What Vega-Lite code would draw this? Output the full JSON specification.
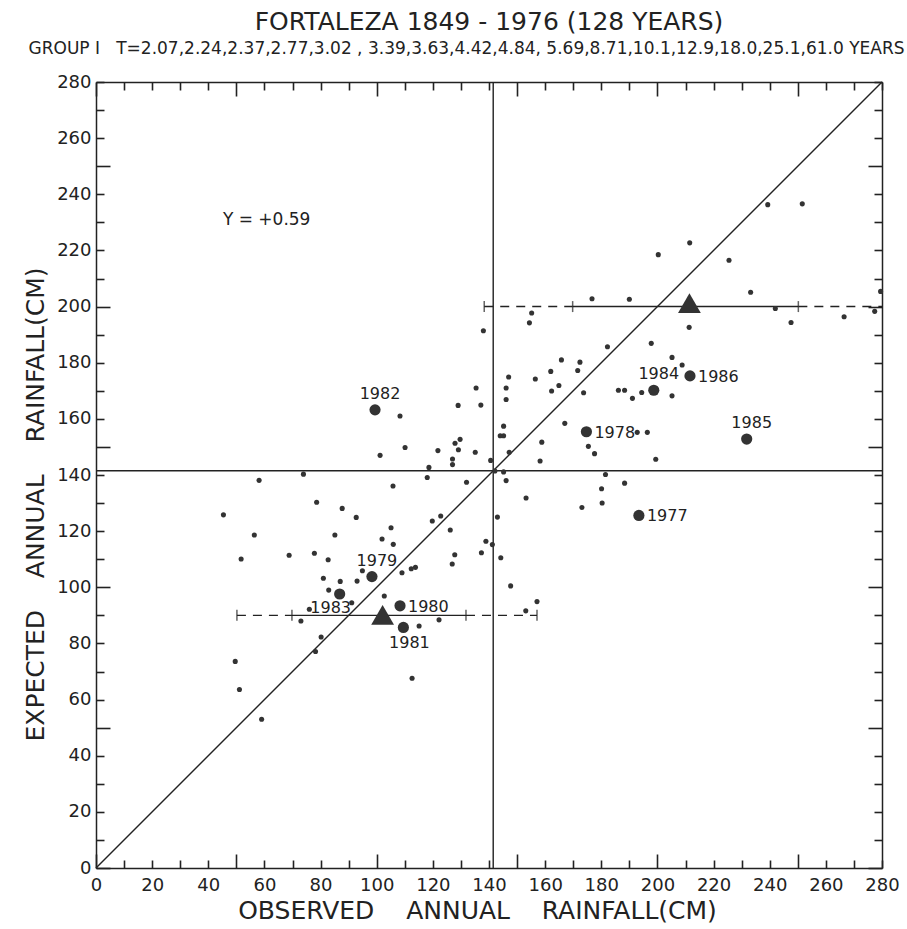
{
  "$schema": "https://vega.github.io/schema/vega-lite/v6.json",
  "width": 786,
  "height": 786,
  "autosize": {"type": "none"},
  "padding": {"left": 96, "top": 82, "right": 25, "bottom": 61},
  "background": "white",
  "config": {
    "view": {"stroke": null},
    "font": "DejaVu Sans",
    "axis": {
      "grid": false,
      "domainColor": "#222",
      "domainWidth": 1.5,
      "tickColor": "#222",
      "tickWidth": 1.6,
      "labelColor": "#222",
      "labelFont": "DejaVu Sans",
      "labelFontSize": 18,
      "labelFlush": false,
      "labelOverlap": false,
      "labelBound": false,
      "titleFont": "DejaVu Sans",
      "titleFontWeight": "normal",
      "titleColor": "#222"
    }
  },
  "title": {
    "text": "FORTALEZA 1849 - 1976 (128 YEARS)",
    "font": "DejaVu Sans",
    "fontSize": 25,
    "fontWeight": "normal",
    "color": "#222",
    "anchor": "middle",
    "offset": 4
  },
  "datasets": {
    "pts": [
      {"obs":110.1,"exp":149.8},{"obs":101.2,"exp":147.0},{"obs":73.9,"exp":140.3},{"obs":58.1,"exp":138.1},
      {"obs":118.6,"exp":142.7},{"obs":118.0,"exp":139.1},{"obs":105.8,"exp":136.1},{"obs":78.6,"exp":130.3},
      {"obs":87.7,"exp":128.1},{"obs":45.4,"exp":125.8},{"obs":92.7,"exp":124.9},{"obs":56.4,"exp":118.6},
      {"obs":85.1,"exp":118.6},{"obs":105.1,"exp":121.2},{"obs":101.9,"exp":117.2},{"obs":105.9,"exp":115.3},
      {"obs":51.7,"exp":110.1},{"obs":68.8,"exp":111.4},{"obs":77.8,"exp":112.1},{"obs":82.7,"exp":109.8},
      {"obs":94.9,"exp":105.9},{"obs":109.0,"exp":105.2},{"obs":112.3,"exp":106.6},{"obs":113.8,"exp":107.1},
      {"obs":81.0,"exp":103.2},{"obs":87.0,"exp":102.1},{"obs":93.0,"exp":102.2},{"obs":82.9,"exp":99.0},
      {"obs":91.1,"exp":94.5},{"obs":102.7,"exp":96.9},{"obs":76.0,"exp":92.2},{"obs":73.0,"exp":88.0},
      {"obs":115.1,"exp":86.2},{"obs":80.2,"exp":82.3},{"obs":78.2,"exp":77.1},{"obs":49.6,"exp":73.6},
      {"obs":112.6,"exp":67.6},{"obs":51.1,"exp":63.6},{"obs":59.0,"exp":53.0},{"obs":127.9,"exp":151.3},
      {"obs":129.7,"exp":152.7},{"obs":121.8,"exp":148.7},{"obs":127.0,"exp":145.7},{"obs":127.0,"exp":143.7},
      {"obs":129.1,"exp":149.0},{"obs":135.1,"exp":148.1},{"obs":140.6,"exp":145.2},{"obs":147.2,"exp":148.1},
      {"obs":158.8,"exp":151.7},{"obs":158.2,"exp":145.0},{"obs":132.0,"exp":137.4},{"obs":145.2,"exp":141.1},
      {"obs":146.1,"exp":138.0},{"obs":153.2,"exp":131.8},{"obs":173.1,"exp":128.4},{"obs":119.8,"exp":123.6},
      {"obs":122.8,"exp":125.4},{"obs":126.2,"exp":120.4},{"obs":143.0,"exp":125.0},{"obs":138.9,"exp":116.4},
      {"obs":141.2,"exp":115.2},{"obs":137.3,"exp":112.3},{"obs":127.8,"exp":111.6},{"obs":126.9,"exp":108.3},
      {"obs":144.2,"exp":110.5},{"obs":147.7,"exp":100.5},{"obs":157.1,"exp":94.9},{"obs":153.1,"exp":91.6},
      {"obs":122.2,"exp":88.4},{"obs":176.7,"exp":202.8},{"obs":155.2,"exp":197.7},{"obs":154.4,"exp":194.2},
      {"obs":138.0,"exp":191.4},{"obs":165.8,"exp":181.0},{"obs":172.4,"exp":180.2},{"obs":171.6,"exp":177.2},
      {"obs":162.0,"exp":176.9},{"obs":147.0,"exp":174.9},{"obs":156.5,"exp":174.2},{"obs":146.1,"exp":171.0},
      {"obs":164.9,"exp":171.9},{"obs":162.3,"exp":169.9},{"obs":135.4,"exp":171.0},{"obs":173.7,"exp":169.3},
      {"obs":146.1,"exp":166.9},{"obs":129.0,"exp":164.8},{"obs":137.1,"exp":164.9},{"obs":167.0,"exp":158.4},
      {"obs":145.2,"exp":157.4},{"obs":144.0,"exp":154.0},{"obs":145.2,"exp":154.0},{"obs":175.4,"exp":150.2},
      {"obs":177.6,"exp":147.6},{"obs":108.3,"exp":161.0},{"obs":190.0,"exp":202.6},{"obs":182.2,"exp":185.7},
      {"obs":186.1,"exp":170.2},{"obs":188.3,"exp":170.2},{"obs":191.1,"exp":167.3},{"obs":194.4,"exp":169.4},
      {"obs":205.2,"exp":168.2},{"obs":192.8,"exp":155.2},{"obs":196.4,"exp":155.2},{"obs":199.4,"exp":145.6},
      {"obs":181.5,"exp":140.2},{"obs":188.3,"exp":137.1},{"obs":180.1,"exp":135.1},{"obs":180.3,"exp":130.0},
      {"obs":239.3,"exp":236.3},{"obs":251.6,"exp":236.6},{"obs":211.5,"exp":222.7},{"obs":200.3,"exp":218.5},
      {"obs":225.5,"exp":216.5},{"obs":233.2,"exp":205.1},{"obs":279.5,"exp":205.4},{"obs":242.0,"exp":199.3},
      {"obs":266.5,"exp":196.4},{"obs":277.4,"exp":198.3},{"obs":247.6,"exp":194.3},{"obs":211.3,"exp":192.6},
      {"obs":197.8,"exp":186.9},{"obs":205.2,"exp":181.9},{"obs":208.8,"exp":179.2},{"obs":142.1,"exp":141.4}
    ],
    "yrs": [
      {"year":"1977","obs":193.4,"exp":125.6,"pos":"right"},
      {"year":"1978","obs":174.7,"exp":155.4,"pos":"right"},
      {"year":"1979","obs":98.3,"exp":103.8,"pos":"above"},
      {"year":"1980","obs":108.3,"exp":93.4,"pos":"right"},
      {"year":"1981","obs":109.5,"exp":85.7,"pos":"below"},
      {"year":"1982","obs":99.4,"exp":163.2,"pos":"above"},
      {"year":"1983","obs":86.8,"exp":97.6,"pos":"belowleft"},
      {"year":"1984","obs":198.7,"exp":170.2,"pos":"above"},
      {"year":"1985","obs":231.8,"exp":152.8,"pos":"above"},
      {"year":"1986","obs":211.6,"exp":175.3,"pos":"right"}
    ],
    "segs": [
      {"x1":138.3,"x2":169.8,"y":200,"kind":"dashed"},
      {"x1":169.8,"x2":250.2,"y":200,"kind":"solid"},
      {"x1":250.2,"x2":280,"y":200,"kind":"dashed"},
      {"x1":50.2,"x2":69.8,"y":90,"kind":"dashed"},
      {"x1":69.8,"x2":131.8,"y":90,"kind":"solid"},
      {"x1":131.8,"x2":157.1,"y":90,"kind":"dashed"}
    ],
    "ends": [
      {"x":138.3,"y":200},{"x":169.8,"y":200},{"x":250.2,"y":200},
      {"x":50.2,"y":90},{"x":69.8,"y":90},{"x":131.8,"y":90},{"x":157.1,"y":90}
    ],
    "tri": [{"x":211.4,"y":201.2},{"x":102.1,"y":90.2}],
    "means": [{"v":141.5}],
    "diag": [{"x":0,"y":0},{"x":280,"y":280}],
    "note": [{"x":45.2,"y":230.8,"text":"Y = +0.59"}]
  },
  "resolve": {"axis": {"x": "independent", "y": "independent"}},
  "layer": [
    {
      "data": {"name": "diag"},
      "mark": {"type": "line", "color": "#222", "strokeWidth": 1.4},
      "encoding": {
        "x": {
          "field": "x", "type": "quantitative",
          "scale": {"domain": [0, 280], "nice": false, "zero": false},
          "axis": {
            "orient": "bottom",
            "values": [0,10,20,30,40,50,60,70,80,90,100,110,120,130,140,150,160,170,180,190,200,210,220,230,240,250,260,270,280],
            "labelExpr": "datum.value % 20 === 0 ? datum.label : ''",
            "tickSize": {"condition": {"test": "datum.value % 50 === 0", "value": -14}, "value": -8},
            "labelPadding": {"condition": {"test": "datum.value % 50 === 0", "value": 22}, "value": 16},
            "title": "OBSERVED\u00a0\u00a0\u00a0 ANNUAL\u00a0\u00a0\u00a0 RAINFALL(CM)",
            "titleFontSize": 25,
            "titlePadding": 4,
            "titleX": 381
          }
        },
        "y": {
          "field": "y", "type": "quantitative",
          "scale": {"domain": [0, 280], "nice": false, "zero": false},
          "axis": {
            "orient": "left",
            "values": [0,10,20,30,40,50,60,70,80,90,100,110,120,130,140,150,160,170,180,190,200,210,220,230,240,250,260,270,280],
            "labelExpr": "datum.value % 20 === 0 ? datum.label : ''",
            "tickSize": {"condition": {"test": "datum.value % 50 === 0", "value": -14}, "value": -8},
            "labelPadding": {"condition": {"test": "datum.value % 50 === 0", "value": 19}, "value": 13},
            "title": "EXPECTED\u00a0\u00a0\u00a0 ANNUAL\u00a0\u00a0\u00a0 RAINFALL(CM)",
            "titleFontSize": 25,
            "titlePadding": 8,
            "titleY": 422
          }
        }
      }
    },
    {
      "data": {"name": "means"},
      "mark": {"type": "rule", "color": "#222", "strokeWidth": 1.4},
      "encoding": {
        "x": {
          "field": "v", "type": "quantitative",
          "scale": {"domain": [0, 280], "nice": false, "zero": false},
          "axis": {
            "orient": "top",
            "values": [0,10,20,30,40,50,60,70,80,90,100,110,120,130,140,150,160,170,180,190,200,210,220,230,240,250,260,270,280],
            "labels": false,
            "tickSize": {"condition": {"test": "datum.value % 50 === 0", "value": -14}, "value": -8},
            "title": "GROUP I\u00a0\u00a0 T=2.07,2.24,2.37,2.77,3.02 , 3.39,3.63,4.42,4.84, 5.69,8.71,10.1,12.9,18.0,25.1,61.0 YEARS",
            "titleFontSize": 17,
            "titlePadding": 24,
            "titleX": 370
          }
        }
      }
    },
    {
      "data": {"name": "means"},
      "mark": {"type": "rule", "color": "#222", "strokeWidth": 1.4},
      "encoding": {
        "y": {
          "field": "v", "type": "quantitative",
          "scale": {"domain": [0, 280], "nice": false, "zero": false},
          "axis": {
            "orient": "right",
            "values": [0,10,20,30,40,50,60,70,80,90,100,110,120,130,140,150,160,170,180,190,200,210,220,230,240,250,260,270,280],
            "labels": false,
            "tickSize": {"condition": {"test": "datum.value % 50 === 0", "value": -14}, "value": -8},
            "title": null
          }
        }
      }
    },
    {
      "data": {"name": "segs"},
      "mark": {"type": "rule", "color": "#222", "strokeWidth": 1.4},
      "encoding": {
        "x": {"field": "x1", "type": "quantitative", "scale": {"domain": [0, 280], "nice": false, "zero": false}, "axis": null},
        "x2": {"field": "x2"},
        "y": {"field": "y", "type": "quantitative", "scale": {"domain": [0, 280], "nice": false, "zero": false}, "axis": null},
        "strokeDash": {"field": "kind", "type": "nominal", "scale": {"domain": ["solid", "dashed"], "range": [[1, 0], [9, 7]]}, "legend": null}
      }
    },
    {
      "data": {"name": "ends"},
      "mark": {"type": "tick", "orient": "vertical", "color": "#222", "size": 11, "thickness": 1.5},
      "encoding": {
        "x": {"field": "x", "type": "quantitative", "scale": {"domain": [0, 280], "nice": false, "zero": false}, "axis": null},
        "y": {"field": "y", "type": "quantitative", "scale": {"domain": [0, 280], "nice": false, "zero": false}, "axis": null}
      }
    },
    {
      "data": {"name": "pts"},
      "mark": {"type": "circle", "color": "#333", "size": 26, "opacity": 1},
      "encoding": {
        "x": {"field": "obs", "type": "quantitative", "scale": {"domain": [0, 280], "nice": false, "zero": false}, "axis": null},
        "y": {"field": "exp", "type": "quantitative", "scale": {"domain": [0, 280], "nice": false, "zero": false}, "axis": null}
      }
    },
    {
      "data": {"name": "yrs"},
      "mark": {"type": "circle", "color": "#333", "size": 125, "opacity": 1},
      "encoding": {
        "x": {"field": "obs", "type": "quantitative", "scale": {"domain": [0, 280], "nice": false, "zero": false}, "axis": null},
        "y": {"field": "exp", "type": "quantitative", "scale": {"domain": [0, 280], "nice": false, "zero": false}, "axis": null}
      }
    },
    {
      "data": {"name": "tri"},
      "mark": {"type": "point", "shape": "triangle-up", "filled": true, "color": "#333", "size": 520, "opacity": 1},
      "encoding": {
        "x": {"field": "x", "type": "quantitative", "scale": {"domain": [0, 280], "nice": false, "zero": false}, "axis": null},
        "y": {"field": "y", "type": "quantitative", "scale": {"domain": [0, 280], "nice": false, "zero": false}, "axis": null}
      }
    },
    {
      "data": {"name": "yrs"},
      "transform": [{"filter": "datum.pos === 'right'"}],
      "mark": {"type": "text", "align": "left", "baseline": "middle", "dx": 8, "dy": 1, "fontSize": 16, "color": "#222"},
      "encoding": {
        "x": {"field": "obs", "type": "quantitative", "scale": {"domain": [0, 280], "nice": false, "zero": false}, "axis": null},
        "y": {"field": "exp", "type": "quantitative", "scale": {"domain": [0, 280], "nice": false, "zero": false}, "axis": null},
        "text": {"field": "year"}
      }
    },
    {
      "data": {"name": "yrs"},
      "transform": [{"filter": "datum.pos === 'above'"}],
      "mark": {"type": "text", "align": "center", "baseline": "bottom", "dx": 5, "dy": -8, "fontSize": 16, "color": "#222"},
      "encoding": {
        "x": {"field": "obs", "type": "quantitative", "scale": {"domain": [0, 280], "nice": false, "zero": false}, "axis": null},
        "y": {"field": "exp", "type": "quantitative", "scale": {"domain": [0, 280], "nice": false, "zero": false}, "axis": null},
        "text": {"field": "year"}
      }
    },
    {
      "data": {"name": "yrs"},
      "transform": [{"filter": "datum.pos === 'below'"}],
      "mark": {"type": "text", "align": "center", "baseline": "top", "dx": 6, "dy": 8, "fontSize": 16, "color": "#222"},
      "encoding": {
        "x": {"field": "obs", "type": "quantitative", "scale": {"domain": [0, 280], "nice": false, "zero": false}, "axis": null},
        "y": {"field": "exp", "type": "quantitative", "scale": {"domain": [0, 280], "nice": false, "zero": false}, "axis": null},
        "text": {"field": "year"}
      }
    },
    {
      "data": {"name": "yrs"},
      "transform": [{"filter": "datum.pos === 'belowleft'"}],
      "mark": {"type": "text", "align": "center", "baseline": "top", "dx": -9, "dy": 6, "fontSize": 16, "color": "#222"},
      "encoding": {
        "x": {"field": "obs", "type": "quantitative", "scale": {"domain": [0, 280], "nice": false, "zero": false}, "axis": null},
        "y": {"field": "exp", "type": "quantitative", "scale": {"domain": [0, 280], "nice": false, "zero": false}, "axis": null},
        "text": {"field": "year"}
      }
    },
    {
      "data": {"name": "note"},
      "mark": {"type": "text", "align": "left", "baseline": "middle", "fontSize": 17, "color": "#222"},
      "encoding": {
        "x": {"field": "x", "type": "quantitative", "scale": {"domain": [0, 280], "nice": false, "zero": false}, "axis": null},
        "y": {"field": "y", "type": "quantitative", "scale": {"domain": [0, 280], "nice": false, "zero": false}, "axis": null},
        "text": {"field": "text"}
      }
    }
  ]
}
